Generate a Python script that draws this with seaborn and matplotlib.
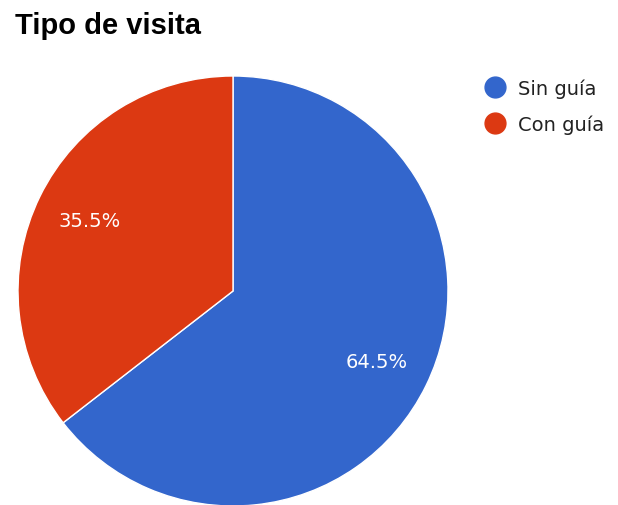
import matplotlib
matplotlib.use("Agg")
import matplotlib.pyplot as plt
from matplotlib.lines import Line2D
import seaborn as sns

# data
categories = ["Sin guía", "Con guía"]
shares = [64.5, 35.5]
colors = ["#3366CC", "#DC3912"]

sns.set_theme(style="white")
plt.rcParams['font.family'] = ['DejaVu Sans']

fig = plt.figure(figsize=(6.18, 5.06), dpi=100)
W, H = 618, 506

# square axes that holds the pie (pixels from the reference)
ax = fig.add_axes([18 / W, (H - 507) / H, 430 / W, 430 / H])
wedges, texts, autotexts = ax.pie(
    shares,
    colors=sns.color_palette(colors),
    startangle=90,
    counterclock=False,
    autopct="%.1f%%",
    pctdistance=0.745,
    radius=1,
    wedgeprops=dict(edgecolor="white", linewidth=1),
    textprops=dict(color="white", fontsize=14),
)
ax.set_xlim(-1, 1)
ax.set_ylim(-1, 1)
ax.set_aspect("equal")
ax.axis("off")

fig.text(15 / W, 1 - 34 / H, "Tipo de visita", fontsize=21, fontweight="bold",
         family="Liberation Sans", color="black", ha="left", va="baseline")

handles = [Line2D([], [], marker="o", linestyle="", markersize=15,
                  markerfacecolor=c, markeredgecolor=c) for c in colors]
fig.legend(handles, categories, loc="upper left",
           bbox_to_anchor=(476 / W, 1 - 70 / H), frameon=False,
           fontsize=14, handlelength=1.0, handletextpad=0.65,
           labelspacing=0.82, borderpad=0, labelcolor="#222222")

fig.savefig("out.png", dpi=100)
